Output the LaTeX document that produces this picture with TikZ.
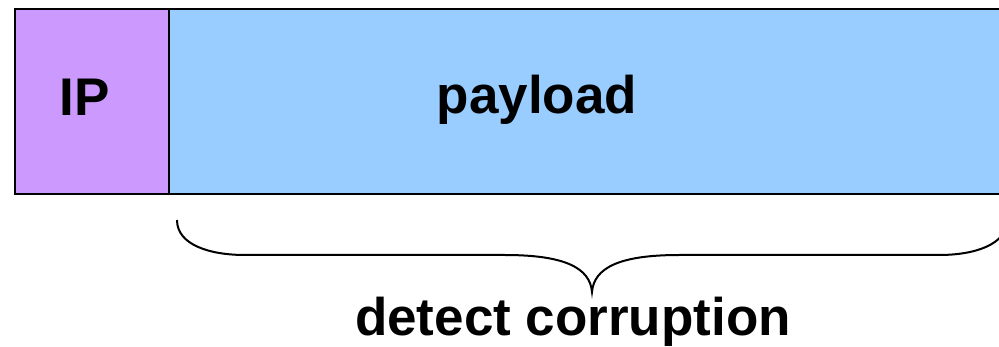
\documentclass[tikz,border=0pt]{standalone}
\usepackage{fontspec}
\setmainfont{Liberation Sans}
\definecolor{ippurple}{HTML}{CC99FF}
\definecolor{payblue}{HTML}{99CCFF}
\begin{document}
\begin{tikzpicture}[x=1pt,y=-1pt,
  box/.style={draw=black, line width=2pt, inner sep=0pt, outer sep=0pt},
  lbl/.style={font=\bfseries\fontsize{53}{60}\selectfont, inner sep=0pt, anchor=base}]
\useasboundingbox (0,0) rectangle (999,347);
\clip (0,0) rectangle (999,347);
\node[box, fill=payblue, minimum width=850pt, minimum height=185pt, anchor=north west] (payload) at (169,9.5) {};
\node[box, fill=ippurple, minimum width=154pt, minimum height=185pt, anchor=north west] (ip) at (15,9.5) {};
\node[lbl] (iptext) at (85,116) {IP};
\node[lbl] (paytext) at (537,114) {payload};
\draw[line width=2pt] (177,220) .. controls (177,245) and (210,255) .. (245,255)
  -- (505,255) .. controls (565,255) and (590,268) .. (592,292)
  .. controls (594,268) and (619,255) .. (679,255)
  -- (939,255) .. controls (974,255) and (1007,245) .. (1007,220);
\node[lbl] (detect) at (573,336) {detect corruption};
\end{tikzpicture}
\end{document}
